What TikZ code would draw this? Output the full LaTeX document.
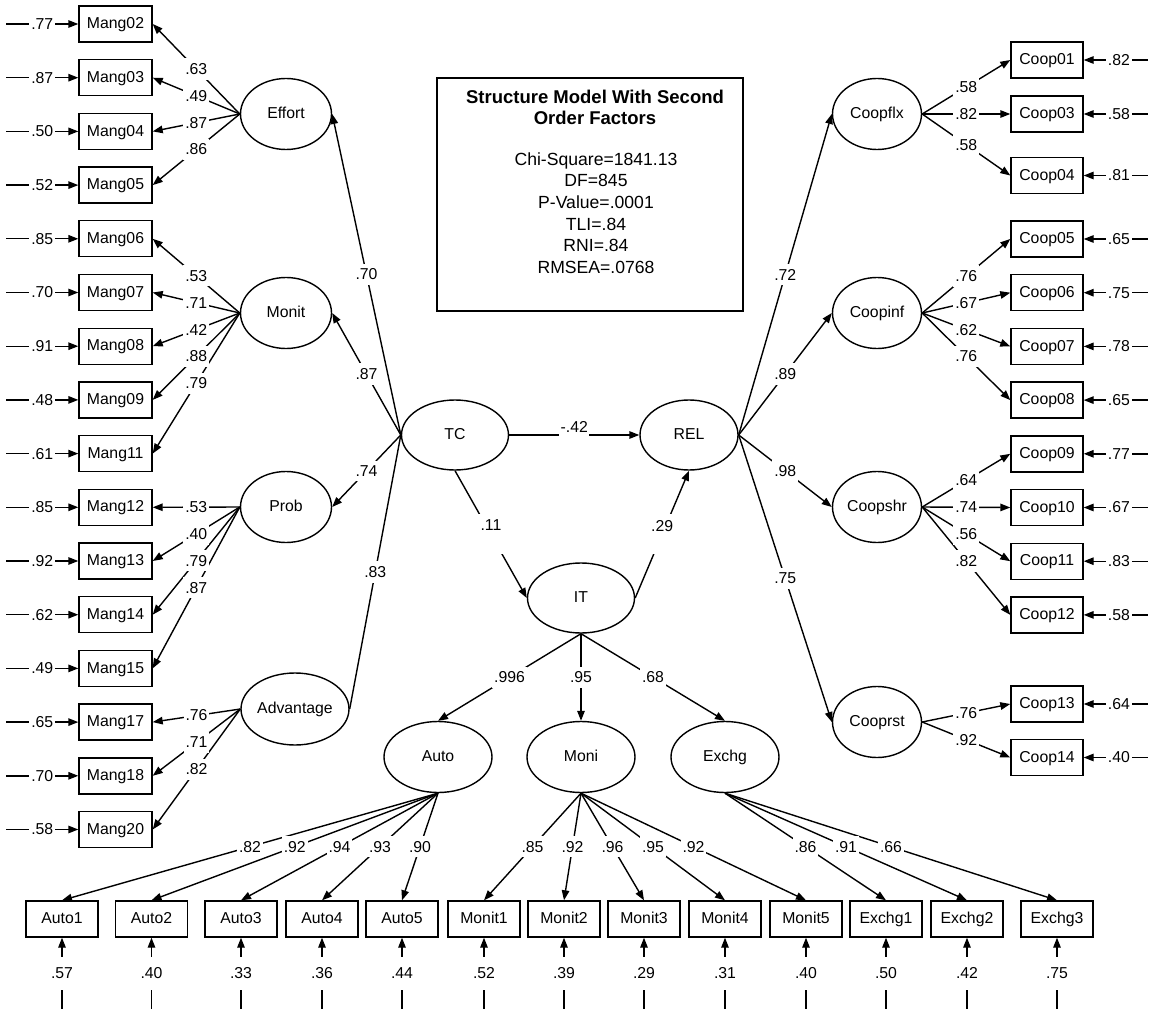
\documentclass[tikz,border=0pt]{standalone}
\usepackage{fontspec}
\setmainfont{Liberation Sans}
\usetikzlibrary{arrows.meta,shapes.geometric,calc}
\pgfdeclarelayer{fg}
\pgfsetlayers{main,fg}
\newcommand\labfont{\fontsize{15.8}{18}\selectfont}
\begin{document}
\begin{tikzpicture}[x=1pt,y=-1pt,
  obs/.style={draw, line width=1.4pt, minimum width=73pt, minimum height=36pt, inner sep=0pt, font=\labfont, text height=11.3pt, text depth=2pt},
  lat/.style={ellipse, draw, line width=1.4pt, inner sep=0pt, minimum width=91pt, minimum height=71pt, font=\labfont, text height=11.3pt, text depth=2pt},
  lbl/.style={fill=white, inner xsep=2pt, inner ysep=5pt, font=\labfont},
  elbl/.style={fill=white, inner xsep=2pt, inner ysep=3pt, font=\labfont},
  blbl/.style={fill=white, inner xsep=2pt, inner ysep=11pt, font=\labfont},
  gap/.style={fill=white, inner sep=0pt},
  arr/.style={line width=1.4pt, -{Triangle[length=10pt,width=7.5pt]}},
  ln/.style={line width=1.4pt}]
\useasboundingbox (0,0) rectangle (1154,1011);

% ---------- stats box ----------
\node[draw, line width=1.4pt, minimum width=306pt, minimum height=233pt] (stats) at (590,194.5) {};
\node[font=\bfseries\fontsize{18.5}{21}\selectfont, align=center] (title) at (595,107.5) {Structure Model With Second\\Order Factors};
\node[font=\fontsize{17.6}{21.6}\selectfont, align=center] (fitidx) at (596,213) {Chi-Square=1841.13\\DF=845\\P-Value=.0001\\TLI=.84\\RNI=.84\\RMSEA=.0768};

% ---------- left observed ----------
\foreach \n/\t [count=\k from 0] in {m02/Mang02,m03/Mang03,m04/Mang04,m05/Mang05,m06/Mang06,m07/Mang07,m08/Mang08,m09/Mang09,m11/Mang11,m12/Mang12,m13/Mang13,m14/Mang14,m15/Mang15,m17/Mang17,m18/Mang18,m20/Mang20}
  \node[obs] (\n) at (115.5,{24+53.7*\k}) {\t};

% ---------- right observed ----------
\foreach \n/\t/\yy in {c01/Coop01/60,c03/Coop03/114,c04/Coop04/175.5,c05/Coop05/239,c06/Coop06/292.7,c07/Coop07/346.4,c08/Coop08/400.1,c09/Coop09/453.8,c10/Coop10/507.5,c11/Coop11/561.2,c12/Coop12/614.9,c13/Coop13/704,c14/Coop14/757.5}
  \node[obs, minimum width=72pt] (\n) at (1047,\yy) {\t};

% ---------- bottom observed ----------
\foreach \n/\t/\xx in {b1/Auto1/62,b2/Auto2/151.5,b3/Auto3/241,b4/Auto4/322,b5/Auto5/402,b6/Monit1/484,b7/Monit2/564,b8/Monit3/644,b9/Monit4/725,b10/Monit5/806,b11/Exchg1/886,b12/Exchg2/967,b13/Exchg3/1057}
  \node[obs, minimum width=72pt] (\n) at (\xx,919) {\t};

% ---------- latent ----------
\node[lat] (Effort) at (286,114) {Effort};
\node[lat] (Monit) at (286,313) {Monit};
\node[lat] (Prob) at (286,507) {Prob};
\node[lat, minimum width=108pt, minimum height=72pt] (Adv) at (295,709) {Advantage};
\node[lat, minimum width=89pt] (Coopflx) at (877,114) {Coopflx};
\node[lat, minimum width=89pt] (Coopinf) at (877,313) {Coopinf};
\node[lat, minimum width=89pt] (Coopshr) at (877,507) {Coopshr};
\node[lat, minimum width=89pt] (Cooprst) at (877,722) {Cooprst};
\node[lat, minimum width=107pt, minimum height=70pt] (TC) at (455,435) {TC};
\node[lat, minimum width=98pt, minimum height=70pt] (REL) at (689,435) {REL};
\node[lat, minimum width=107pt, minimum height=70pt] (IT) at (581,598) {IT};
\node[lat, minimum width=108pt] (Auto) at (438,757) {Auto};
\node[lat, minimum width=108pt] (Moni) at (581,757) {Moni};
\node[lat, minimum width=108pt] (Exchg) at (725,757) {Exchg};

% ---------- error arrows ----------
\foreach \n/\e in {m02/.77,m03/.87,m04/.50,m05/.52,m06/.85,m07/.70,m08/.91,m09/.48,m11/.61,m12/.85,m13/.92,m14/.62,m15/.49,m17/.65,m18/.70,m20/.58}{
  \coordinate (e\n) at ($(\n.west)+(-72,0)$);
  \draw[arr] (e\n) -- (\n.west) node[elbl,pos=.5] (t\n) {\e};
}
\foreach \n/\e in {c01/.82,c03/.58,c04/.81,c05/.65,c06/.75,c07/.78,c08/.65,c09/.77,c10/.67,c11/.83,c12/.58,c13/.64,c14/.40}{
  \coordinate (e\n) at ($(\n.east)+(64,0)$);
  \draw[arr] (e\n) -- (\n.east) node[elbl,pos=.45] (t\n) {\e};
}
\foreach \n/\e in {b1/.57,b2/.40,b3/.33,b4/.36,b5/.44,b6/.52,b7/.39,b8/.29,b9/.31,b10/.40,b11/.50,b12/.42,b13/.75}{
  \coordinate (e\n) at ($(\n.south)+(0,71)$);
  \draw[arr] (e\n) -- (\n.south) node[blbl,pos=.5] (t\n) {\e};
}

% ---------- left loadings ----------
\foreach \fa/\n/\lb in {Effort/m02/.63,Effort/m03/.49,Effort/m04/.87,Effort/m05/.86,Monit/m06/.53,Monit/m07/.71,Monit/m08/.42,Monit/m09/.88,Monit/m11/.79,Prob/m12/.53,Prob/m13/.40,Prob/m14/.79,Prob/m15/.87,Adv/m17/.76,Adv/m18/.71,Adv/m20/.82}{
  \draw[arr] (\fa.west) -- (\n.east) coordinate[pos=.5] (mid);
  \begin{pgfonlayer}{fg}\node[lbl] (l\n) at (mid) {\lb};\end{pgfonlayer}
}
% ---------- right loadings ----------
\foreach \fa/\n/\lb in {Coopflx/c01/.58,Coopflx/c03/.82,Coopflx/c04/.58,Coopinf/c05/.76,Coopinf/c06/.67,Coopinf/c07/.62,Coopinf/c08/.76,Coopshr/c09/.64,Coopshr/c10/.74,Coopshr/c11/.56,Coopshr/c12/.82,Cooprst/c13/.76,Cooprst/c14/.92}{
  \draw[arr] (\fa.east) -- (\n.west) coordinate[pos=.5] (mid);
  \begin{pgfonlayer}{fg}\node[lbl] (l\n) at (mid) {\lb};\end{pgfonlayer}
}
% ---------- bottom loadings ----------
\foreach \fa/\n/\lb in {Auto/b1/.82,Auto/b2/.92,Auto/b3/.94,Auto/b4/.93,Auto/b5/.90,Moni/b6/.85,Moni/b7/.92,Moni/b8/.96,Moni/b9/.95,Moni/b10/.92,Exchg/b11/.86,Exchg/b12/.91,Exchg/b13/.66}{
  \draw[arr] (\fa.south) -- (\n.north) coordinate[pos=.5] (mid);
  \begin{pgfonlayer}{fg}\node[lbl] (l\n) at (mid) {\lb};\end{pgfonlayer}
}
% ---------- second order ----------
\foreach \fa/\lb/\nm in {Effort/.70/s1,Monit/.87/s2,Prob/.74/s3}{
  \draw[arr] (TC.west) -- (\fa.east) coordinate[pos=.5] (mid);
  \begin{pgfonlayer}{fg}\node[lbl] (\nm) at (mid) {\lb};\end{pgfonlayer}
}
\draw[ln] (TC.west) -- (Adv.east) coordinate[pos=.5] (mAdv);
\begin{pgfonlayer}{fg}\node[lbl] (s4) at (mAdv) {.83};\end{pgfonlayer}
\foreach \fa/\lb/\nm in {Coopflx/.72/r1,Coopinf/.89/r2,Coopshr/.98/r3,Cooprst/.75/r4}{
  \draw[arr] (REL.east) -- (\fa.west) coordinate[pos=.5] (mid);
  \begin{pgfonlayer}{fg}\node[lbl] (\nm) at (mid) {\lb};\end{pgfonlayer}
}
\foreach \fa/\lb/\nm in {Auto/.996/i1,Moni/.95/i2,Exchg/.68/i3}{
  \draw[arr] (IT.south) -- (\fa.north) coordinate[pos=.5] (mid);
  \begin{pgfonlayer}{fg}\node[lbl] (\nm) at (mid) {\lb};\end{pgfonlayer}
}
% ---------- structural ----------
\draw[arr] (TC.east) -- (REL.west) coordinate[pos=.5] (mTR);
\draw[arr] (TC.south) -- (IT.west) coordinate[pos=.5] (mTI);
\draw[arr] (IT.east) -- (REL.south) coordinate[pos=.5] (mIR);
\begin{pgfonlayer}{fg}
\node[gap, minimum width=30pt, minimum height=14pt] (gTR) at (mTR) {};
\node[font=\labfont] (tTR) at ($(mTR)+(0,-8)$) {-.42};
\node[gap, minimum width=26pt, minimum height=40pt] (gTI) at (mTI) {};
\node[font=\labfont] (tTI) at ($(mTI)+(0,-9)$) {.11};
\node[gap, minimum width=26pt, minimum height=40pt] (gIR) at (mIR) {};
\node[font=\labfont] (tIR) at ($(mIR)+(0,-8)$) {.29};
\end{pgfonlayer}
\end{tikzpicture}
\end{document}
